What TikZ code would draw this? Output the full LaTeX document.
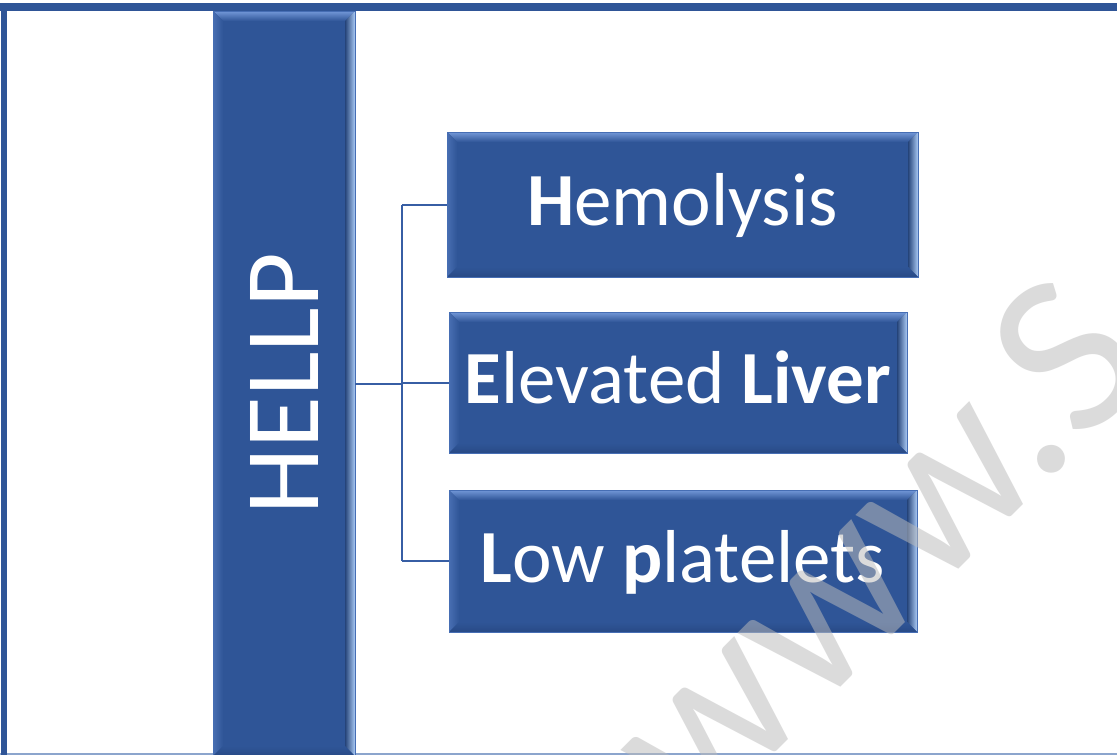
\documentclass[tikz,border=0pt]{standalone}
\usepackage{fontspec}
\setmainfont{Carlito}
\usetikzlibrary{calc}
\definecolor{boxblue}{RGB}{47,85,151}
\definecolor{boxedge}{RGB}{70,110,180}
\definecolor{bevtop}{RGB}{115,152,216}
\definecolor{bevleft}{RGB}{72,110,178}
\definecolor{bevright}{RGB}{170,202,245}
\definecolor{bevbot}{RGB}{40,74,134}
\definecolor{linkblue}{RGB}{55,94,164}
\definecolor{wmgray}{RGB}{187,187,187}
\definecolor{bottomline}{RGB}{140,165,205}
\tikzset{
  bevel/.style={fill=boxblue, draw=boxedge, line width=0.8pt, text=white, inner sep=0pt,
    path picture={
      \coordinate (pa) at (path picture bounding box.north west);
      \coordinate (pb) at (path picture bounding box.north east);
      \coordinate (pc) at (path picture bounding box.south east);
      \coordinate (pd) at (path picture bounding box.south west);
      \shade[top color=bevtop, bottom color=boxblue]
        (pa) -- (pb) -- ($(pb)+(-10pt,-10pt)$) -- ($(pa)+(10pt,-10pt)$) -- cycle;
      \shade[left color=bevleft, right color=boxblue]
        (pa) -- ($(pa)+(10pt,-10pt)$) -- ($(pd)+(10pt,10pt)$) -- (pd) -- cycle;
      \shade[left color=boxblue!80!black, right color=bevright]
        (pb) -- (pc) -- ($(pc)+(-10pt,10pt)$) -- ($(pb)+(-10pt,-10pt)$) -- cycle;
      \shade[top color=boxblue, bottom color=bevbot]
        (pd) -- ($(pd)+(10pt,10pt)$) -- ($(pc)+(-10pt,10pt)$) -- (pc) -- cycle;
    }},
  itemfont/.style={font=\fontsize{75}{78}\selectfont, text height=47pt, text depth=5pt},
  conn/.style={draw=linkblue, line width=2pt},
  wm/.style={text=wmgray, opacity=0.52, font=\fontsize{232}{240}\selectfont, inner sep=0pt},
}
\begin{document}
\begin{tikzpicture}[x=1pt,y=-1pt]
\useasboundingbox (0,0) rectangle (1117,755);
\begin{scope}
\clip (0,0) rectangle (1117,755);
\fill[white] (0,0) rectangle (1117,755);
% outer frame
\draw[bottomline, line width=1.2pt] (0,754) -- (1117,754);
\fill[boxblue] (0,3) rectangle (1117,11);
\fill[boxblue] (1,3) rectangle (7,755);
% vertical bar
\node[bevel, minimum width=142pt, minimum height=745pt] (hellp) at (284,383.5)
  {\fontsize{106}{110}\selectfont\rotatebox{90}{HELLP}};
% item boxes
\node[bevel, itemfont, minimum width=471pt, minimum height=145pt] (hem) at (682.5,204.5)
  {\textbf{H}emolysis};
\node[bevel, itemfont, minimum width=458pt, minimum height=141pt] (liv) at (678,382.5)
  {\textbf{E}levated \textbf{Liver}};
\node[bevel, itemfont, minimum width=468pt, minimum height=142pt] (low) at (683,561)
  {\textbf{L}ow \textbf{p}latelets};
% connectors
\coordinate (j) at ($(hellp.east)+(47pt,0pt)$);
\draw[conn] (hellp.east) -- (j);
\draw[conn] (j |- hem.west) -- (j |- low.west);
\draw[conn] (j |- hem.west) -- (hem.west);
\draw[conn] (j |- liv.west) -- (liv.west);
\draw[conn] (j |- low.west) -- (low.west);
% watermark
\node[wm, rotate=45, anchor=base west] (wmark) at (697,831) {www.S};
\end{scope}
\end{tikzpicture}
\end{document}
